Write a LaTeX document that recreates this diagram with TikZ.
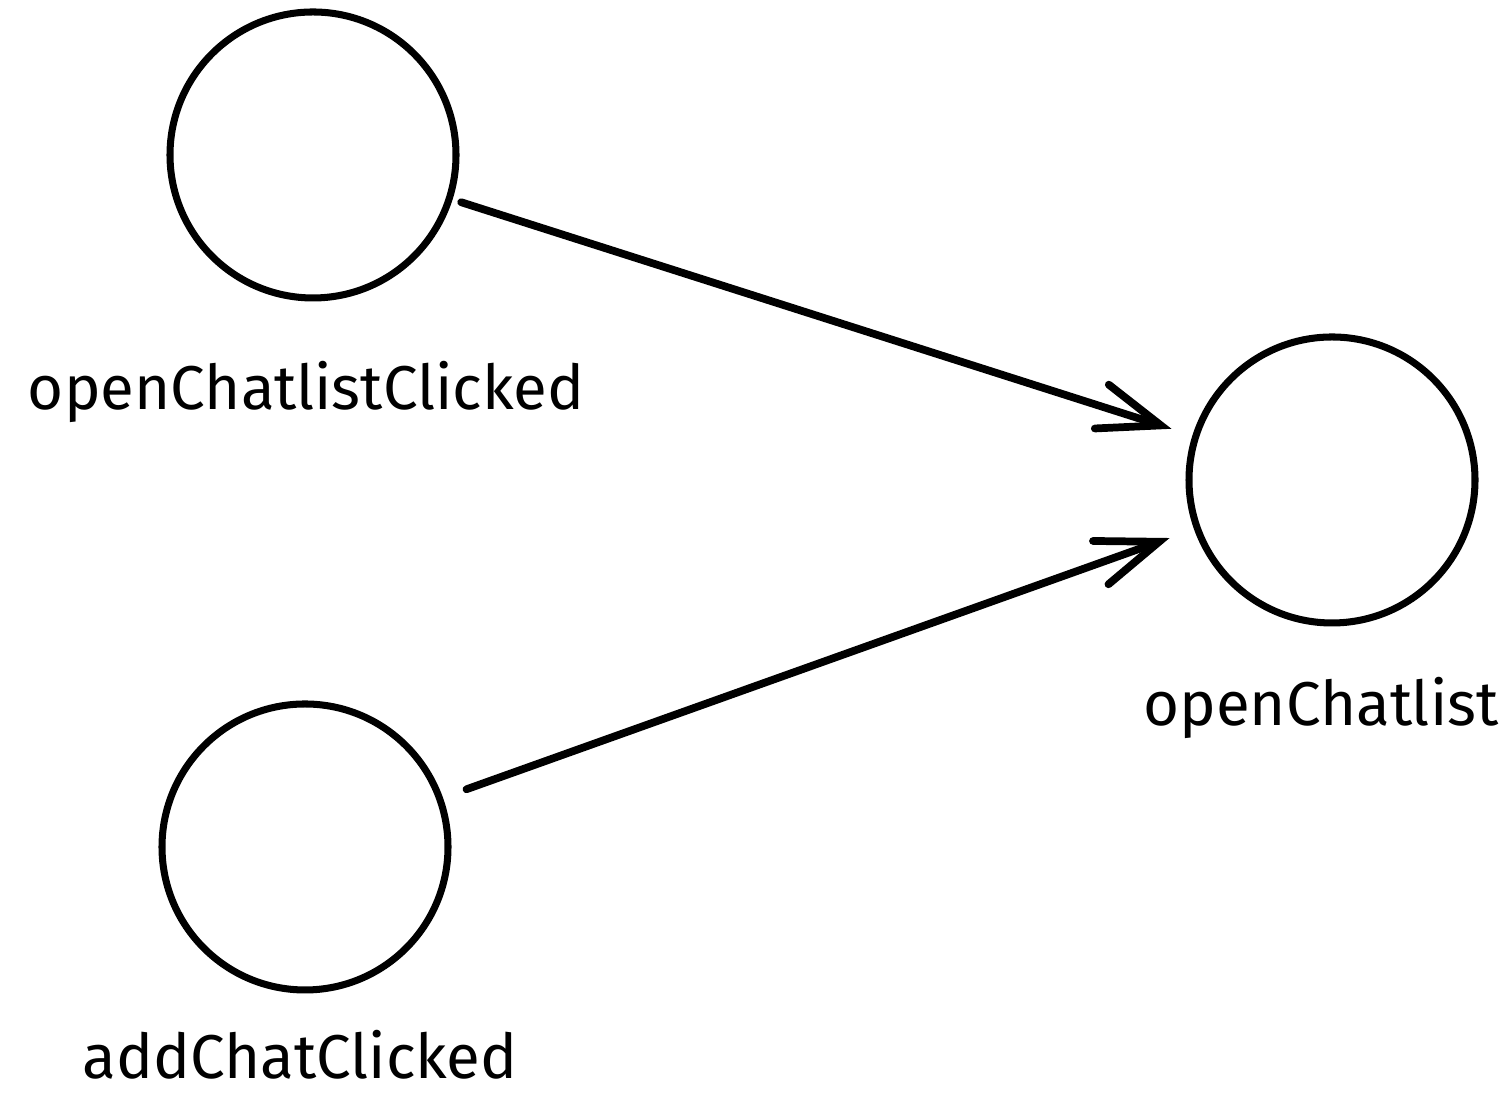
\documentclass[tikz,border=0pt]{standalone}
\usepackage{fontspec}
\setmainfont{Fira Sans}
\usetikzlibrary{arrows.meta}

\tikzset{
  state/.style={draw,circle,line width=2pt,minimum size=2.86cm,inner sep=0pt},
  lbl/.style={anchor=base,font=\fontsize{17.6}{21}\selectfont},
  flow/.style={line width=2.2pt,-{Straight Barb[length=6.2mm,width=4.6mm,line cap=round]},line cap=round}
}

\begin{document}
\begin{tikzpicture}
  \useasboundingbox (0,0) rectangle (15.12,10.95);
  \node[state] (clicked) at (3.13,9.40) {};
  \node[state] (add) at (3.05,2.48) {};
  \node[state] (chatlist) at (13.32,6.15) {};
  \node[lbl] (clickedtxt) at (3.06,6.85) {openChatlistClicked};
  \node[lbl] (addtxt) at (3.00,0.16) {addChatClicked};
  \node[lbl] (chatlisttxt) at (13.21,3.69) {openChatlist};
  \draw[flow,shorten <=0.09cm,shorten >=0.22cm] (clicked)--(chatlist);
  \draw[flow,shorten <=0.25cm,shorten >=0.26cm] (add)--(chatlist);
\end{tikzpicture}
\end{document}
